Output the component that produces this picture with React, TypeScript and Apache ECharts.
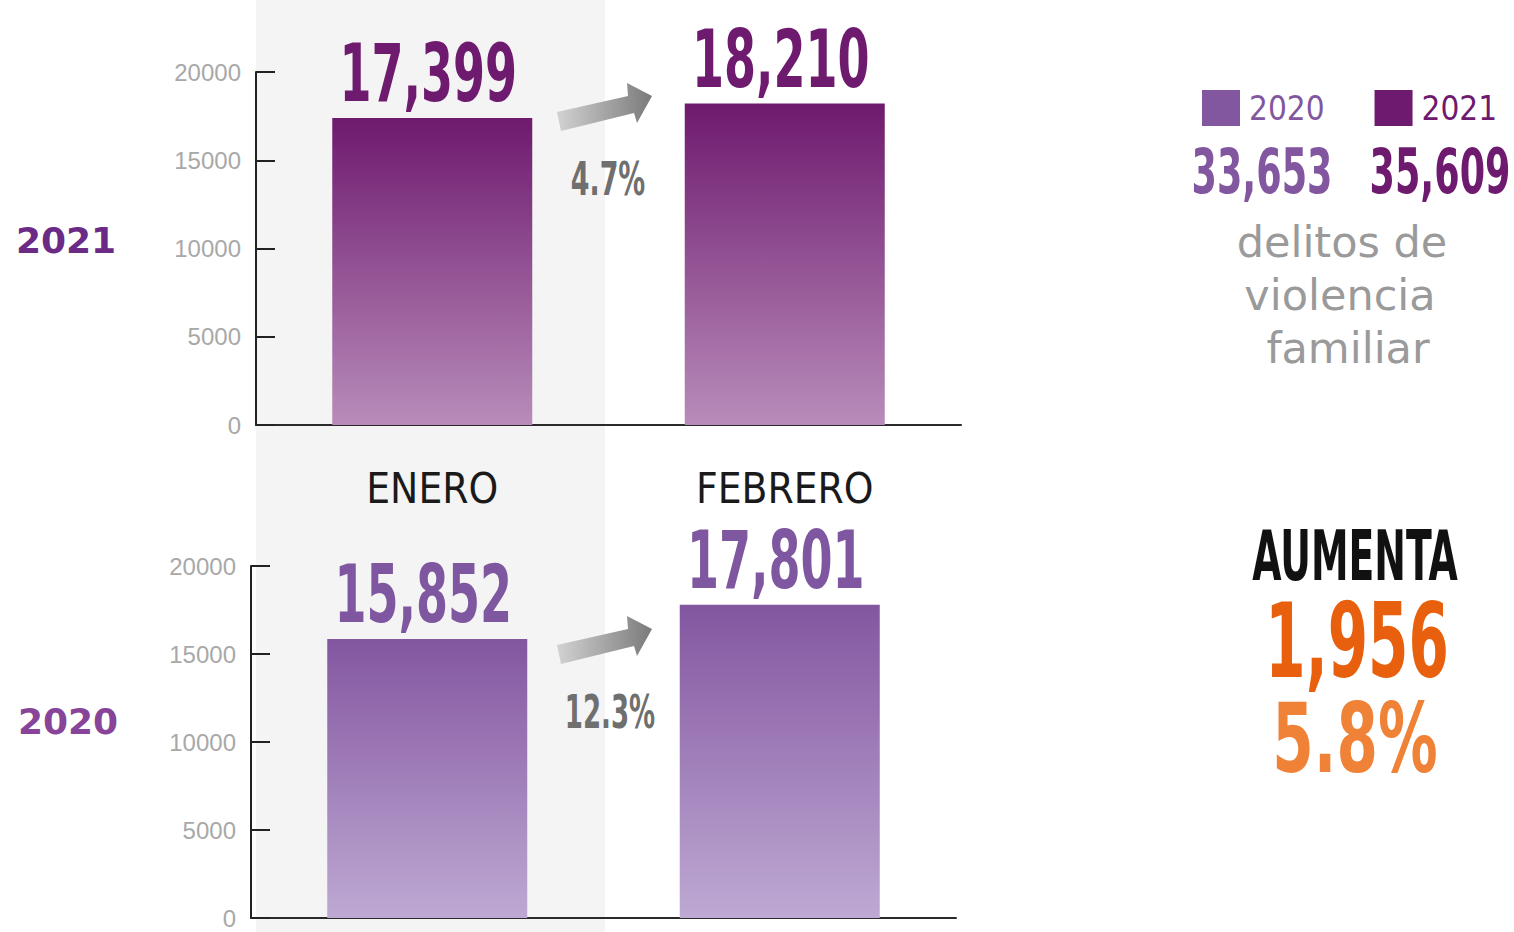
import React, { useEffect, useRef } from 'react';
import * as echarts from 'echarts';

const months = ['ENERO', 'FEBRERO'];
const values2021 = [17399, 18210];
const values2020 = [15852, 17801];
const yMin = 0;
const yMax = 20000;
const yInterval = 5000;
const caption = ['delitos de', 'violencia', 'familiar'];
const headline = 'AUMENTA';

const NARROW = "'Liberation Sans Narrow', 'DejaVu Sans Condensed', sans-serif";
const SANS = "'Liberation Sans', Arial, sans-serif";
const DEJAVU = "'DejaVu Sans', sans-serif";

const C2021 = '#6d1a6f';
const C2020 = '#8257a0';

const fmt = (v: number) => v.toLocaleString('en-US');
const sum = (a: number[]) => a.reduce((s, v) => s + v, 0);
const pct = (a: number, b: number) => ((b / a - 1) * 100).toFixed(1) + '%';

export default function App() {
  const ref = useRef<HTMLDivElement>(null);
  useEffect(() => {
    document.body.style.margin = '0';
    const chart = echarts.init(ref.current!, null, { renderer: 'svg' });
    const total2020 = sum(values2020);
    const total2021 = sum(values2021);
    const diff = total2021 - total2020;

    const arrowPts = [
      [557, 112], [628, 96], [627, 83], [652, 96], [637, 123], [634, 113], [561, 131],
    ];
    const arrowFill = new echarts.graphic.LinearGradient(0, 0, 1, 0, [
      { offset: 0, color: '#d2d2d2' },
      { offset: 1, color: '#7a7a7a' },
    ]);

    const yAxisBase = (grid: number) => ({
      type: 'value',
      gridIndex: grid,
      min: yMin,
      max: yMax,
      interval: yInterval,
      axisLine: { show: true, lineStyle: { color: '#222', width: 2 } },
      axisTick: { show: true, inside: true, length: 19, lineStyle: { color: '#222', width: 2 } },
      splitLine: { show: false },
      axisLabel: {
        margin: 15,
        color: '#a8a8a8',
        fontSize: 24,
        fontFamily: SANS,
        formatter: (v: number) => String(v),
      },
    });

    const barSeries = (name: string, data: number[], grid: number, top: string, bottom: string) => ({
      type: 'bar',
      name,
      xAxisIndex: grid,
      yAxisIndex: grid,
      data,
      barWidth: 200,
      itemStyle: {
        color: new echarts.graphic.LinearGradient(0, 0, 0, 1, [
          { offset: 0, color: top },
          { offset: 1, color: bottom },
        ]),
      },
    });

    // value labels above bars, placed through the axis scales (api.coord)
    const labelSeries = (name: string, data: number[], grid: number, color: string) => ({
      type: 'custom',
      name: name + '-label',
      xAxisIndex: grid,
      yAxisIndex: grid,
      z: 6,
      data: data.map((v, i) => [i, v]),
      renderItem: (_p: any, api: any) => {
        const v = api.value(1);
        const pt = api.coord([api.value(0), v]);
        return {
          type: 'text',
          x: pt[0] - 4,
          y: pt[1] - 44,
          scaleX: 0.64,
          style: {
            text: fmt(v),
            fill: color,
            fontSize: 80,
            fontFamily: NARROW,
            fontWeight: 'bold',
            textAlign: 'center',
            textVerticalAlign: 'middle',
          },
        };
      },
    });

    const txt = (text: string, x: number, y: number, size: number, color: string, opts: any = {}) => ({
      type: 'text',
      x,
      y,
      scaleX: opts.scaleX ?? 1,
      z: 10,
      style: {
        text,
        fill: color,
        fontSize: size,
        fontFamily: opts.family ?? NARROW,
        fontWeight: opts.weight ?? 'bold',
        textAlign: 'center',
        textVerticalAlign: 'middle',
      },
    });

    chart.setOption({
      animation: false,
      backgroundColor: '#ffffff',
      grid: [
        { left: 256, top: 72, width: 705, height: 353 },
        { left: 251, top: 566, width: 705, height: 352 },
      ],
      xAxis: [
        {
          type: 'category',
          gridIndex: 0,
          data: months,
          axisLine: { lineStyle: { color: '#2a2a2a', width: 2 } },
          axisTick: { show: false },
          axisLabel: { margin: 42, color: '#1a1a1a', fontSize: 42, fontFamily: NARROW },
        },
        {
          type: 'category',
          gridIndex: 1,
          data: months,
          axisLine: { lineStyle: { color: '#2a2a2a', width: 2 } },
          axisTick: { show: false },
          axisLabel: { show: false },
        },
      ],
      yAxis: [yAxisBase(0), yAxisBase(1)],
      legend: {
        left: 1197,
        top: 85,
        width: 317,
        itemWidth: 38,
        itemHeight: 36,
        itemGap: 50,
        icon: 'rect',
        selectedMode: false,
        textStyle: { fontFamily: NARROW, fontSize: 33, padding: [0, 0, 0, 4] },
        data: [
          { name: '2020', itemStyle: { color: C2020 }, textStyle: { color: C2020 } },
          { name: '2021', itemStyle: { color: C2021 }, textStyle: { color: C2021 } },
        ],
      },
      series: [
        barSeries('2021', values2021, 0, '#6e1a6e', '#b88cba'),
        barSeries('2020', values2020, 1, '#8356a0', '#bea9d3'),
        labelSeries('2021', values2021, 0, C2021),
        labelSeries('2020', values2020, 1, '#7f56a0'),
      ],
      graphic: [
        { type: 'rect', z: -100, shape: { x: 256, y: 0, width: 349, height: 932 }, style: { fill: '#f4f4f4' } },
        { type: 'polygon', z: 5, shape: { points: arrowPts }, style: { fill: arrowFill } },
        { type: 'polygon', z: 5, y: 533, shape: { points: arrowPts }, style: { fill: arrowFill } },
        txt(pct(values2021[0], values2021[1]), 608, 179, 46, '#6f6f6f', { scaleX: 0.65 }),
        txt(pct(values2020[0], values2020[1]), 610, 712, 46, '#6f6f6f', { scaleX: 0.63 }),
        txt('2021', 66, 240, 36, '#6a2a86', { family: DEJAVU }),
        txt('2020', 68, 721, 36, '#874499', { family: DEJAVU }),
        txt(fmt(total2020), 1262, 171, 62, C2020, { scaleX: 0.655 }),
        txt(fmt(total2021), 1440, 171, 62, C2021, { scaleX: 0.655 }),
        txt(caption[0], 1342, 242, 43, '#9a9a9a', { family: DEJAVU, weight: 'normal' }),
        txt(caption[1], 1340, 295, 43, '#9a9a9a', { family: DEJAVU, weight: 'normal' }),
        txt(caption[2], 1348, 348, 43, '#9a9a9a', { family: DEJAVU, weight: 'normal' }),
        txt(headline, 1355, 556, 70, '#111111', { scaleX: 0.6 }),
        txt(fmt(diff), 1357, 641, 104, '#e8600e', { scaleX: 0.62 }),
        txt(pct(total2020, total2021), 1355, 738, 96, '#f08238', { scaleX: 0.69 }),
      ],
    });
    return () => chart.dispose();
  }, []);
  return <div ref={ref} style={{ width: 1514, height: 932 }} />;
}
